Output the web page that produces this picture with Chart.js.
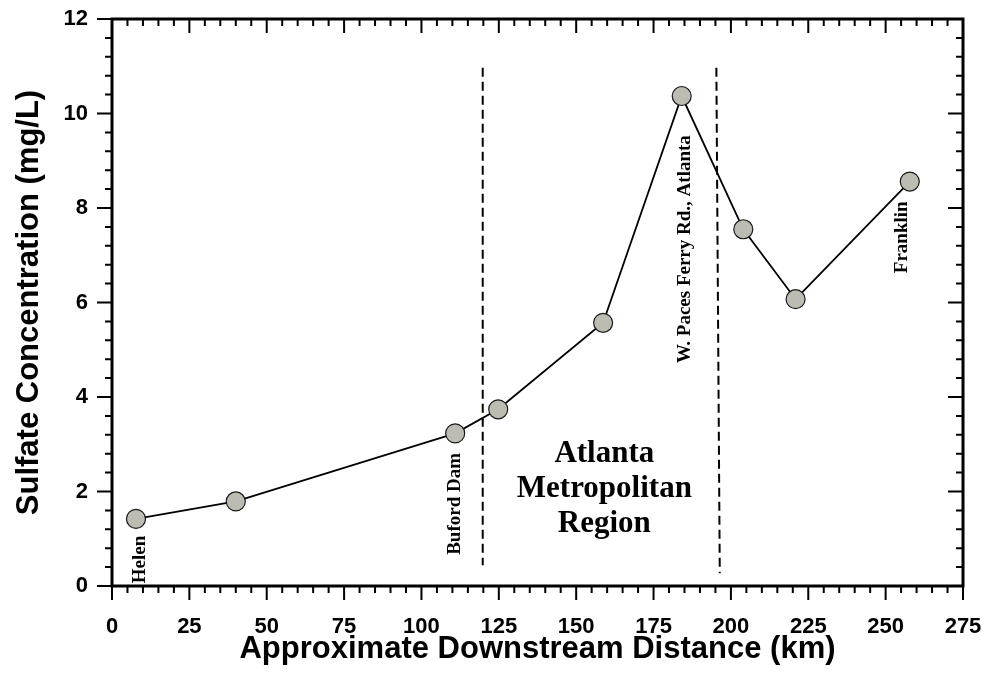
<!DOCTYPE html>
<html><head><meta charset="utf-8">
<script src="https://cdn.jsdelivr.net/npm/chart.js@4/dist/chart.umd.min.js"></script>
<style>html,body{margin:0;padding:0;background:#fff;}#wrap{width:987px;height:692px;position:relative;}</style>
</head><body><div id="wrap"><canvas id="c"></canvas></div>
<script>
// ---- data ----
const distanceKm = [7.75, 40, 110.9, 124.8, 158.7, 184.1, 204, 220.9, 257.8];
const sulfate    = [1.42, 1.79, 3.23, 3.74, 5.57, 10.37, 7.55, 6.07, 8.56];

const xTickValues = [0, 25, 50, 75, 100, 125, 150, 175, 200, 225, 250, 275];
const yTickValues = [0, 2, 4, 6, 8, 10, 12];
const xMinorStep = 5;
const yMinorStep = 0.4;

// region boundaries (dashed)
const boundaryA_km = [119.8, 119.8];
const boundaryA_y  = [10.97, 0.44];
const boundaryB_km = [195.3, 196.4];
const boundaryB_y  = [10.97, 0.27];

// site annotations (rotated)
const siteLabels   = ['Helen', 'Buford Dam', 'W. Paces Ferry Rd., Atlanta', 'Franklin'];
const siteLabelKm  = [9.0, 111.0, 185.1, 255.2];
const siteLabelY   = [0.06, 0.66, 4.72, 6.62];

// region annotation
const regionLines  = ['Atlanta', 'Metropolitan', 'Region'];
const regionKm     = 159.1;
const regionLineY  = [2.62, 1.88, 1.14];

const SANS = "'Liberation Sans', Arial, sans-serif";
const SERIF = "'Liberation Serif', 'Times New Roman', serif";

const framePlugin = {
  id: 'frameTicks',
  afterDraw(chart) {
    const ctx = chart.ctx;
    const xs = chart.scales.x, ys = chart.scales.y;
    const a = chart.chartArea;
    ctx.save();
    ctx.strokeStyle = '#000';
    ctx.lineCap = 'butt';
    ctx.lineWidth = 2;
    ctx.beginPath();
    const nx = Math.round((xs.max - xs.min) / xMinorStep);
    for (let i = 0; i <= nx; i++) {
      const v = xs.min + i * xMinorStep;
      const px = xs.getPixelForValue(v);
      const len = (i % 5 === 0) ? 14 : 7;
      ctx.moveTo(px, a.bottom); ctx.lineTo(px, a.bottom + len);
      ctx.moveTo(px, a.top); ctx.lineTo(px, a.top + len);
    }
    const ny = Math.round((ys.max - ys.min) / yMinorStep);
    for (let i = 0; i <= ny; i++) {
      const v = ys.min + i * yMinorStep;
      const py = ys.getPixelForValue(v);
      const len = (i % 5 === 0) ? 15 : 7;
      ctx.moveTo(a.left - len, py); ctx.lineTo(a.left, py);
      ctx.moveTo(a.right, py); ctx.lineTo(a.right - len, py);
    }
    ctx.stroke();
    ctx.lineWidth = 3;
    ctx.strokeRect(a.left, a.top, a.right - a.left, a.bottom - a.top);

    ctx.fillStyle = '#000';
    ctx.font = 'bold 19px ' + SERIF;
    ctx.textAlign = 'left';
    ctx.textBaseline = 'middle';
    siteLabels.forEach((t, i) => {
      const px = xs.getPixelForValue(siteLabelKm[i]);
      const py = ys.getPixelForValue(siteLabelY[i]);
      ctx.save();
      ctx.translate(px, py);
      ctx.rotate(-Math.PI / 2);
      ctx.fillText(t, 0, 0);
      ctx.restore();
    });
    ctx.font = 'bold 31px ' + SERIF;
    ctx.textAlign = 'center';
    ctx.textBaseline = 'alphabetic';
    regionLines.forEach((t, i) => {
      ctx.fillText(t, xs.getPixelForValue(regionKm), ys.getPixelForValue(regionLineY[i]));
    });
    ctx.restore();
  }
};

function noPad(s) { s.paddingTop = 0; s.paddingBottom = 0; s.paddingLeft = 0; s.paddingRight = 0; }

const ctx = document.getElementById('c');
new Chart(ctx, {
  type: 'scatter',
  data: {
    datasets: [
      {
        data: distanceKm.map((x, i) => ({ x, y: sulfate[i] })),
        showLine: true,
        borderColor: '#000',
        borderWidth: 1.8,
        pointRadius: 9.5,
        pointBackgroundColor: '#bcbcb3',
        pointBorderColor: '#1a1a1a',
        pointBorderWidth: 1.2,
        order: 0
      },
      {
        data: boundaryA_km.map((x, i) => ({ x, y: boundaryA_y[i] })),
        showLine: true, borderColor: '#000', borderWidth: 2, borderDash: [9, 5],
        pointRadius: 0, order: 1
      },
      {
        data: boundaryB_km.map((x, i) => ({ x, y: boundaryB_y[i] })),
        showLine: true, borderColor: '#000', borderWidth: 2, borderDash: [9, 5],
        pointRadius: 0, order: 1
      }
    ]
  },
  options: {
    animation: false,
    responsive: true,
    maintainAspectRatio: false,
    devicePixelRatio: 1,
    layout: { padding: { left: 0, top: 19, right: 24, bottom: 0 } },
    plugins: { legend: { display: false }, tooltip: { enabled: false } },
    scales: {
      x: {
        type: 'linear', min: 0, max: 275,
        afterBuildTicks: s => { s.ticks = xTickValues.map(v => ({ value: v })); },
        afterFit: s => { s.height = 106; noPad(s); },
        grid: { display: false, drawTicks: false },
        border: { display: false },
        ticks: {
          padding: 28, color: '#000', maxRotation: 0, autoSkip: false,
          font: { family: SANS, size: 22, weight: 'bold' }
        },
        title: {
          display: true, text: 'Approximate Downstream Distance (km)', color: '#000',
          font: { family: SANS, size: 31, weight: 'bold' },
          padding: { top: 0, bottom: 24 }
        }
      },
      y: {
        type: 'linear', min: 0, max: 12,
        afterBuildTicks: s => { s.ticks = yTickValues.map(v => ({ value: v })); },
        afterFit: s => { s.width = 112; noPad(s); },
        grid: { display: false, drawTicks: false },
        border: { display: false },
        ticks: {
          padding: 24, color: '#000', autoSkip: false,
          font: { family: SANS, size: 22, weight: 'bold' }
        },
        title: {
          display: true, text: 'Sulfate Concentration (mg/L)', color: '#000',
          font: { family: SANS, size: 31, weight: 'bold' },
          padding: { top: 11, bottom: 0 }
        }
      }
    }
  },
  plugins: [framePlugin]
});
</script></body></html>
